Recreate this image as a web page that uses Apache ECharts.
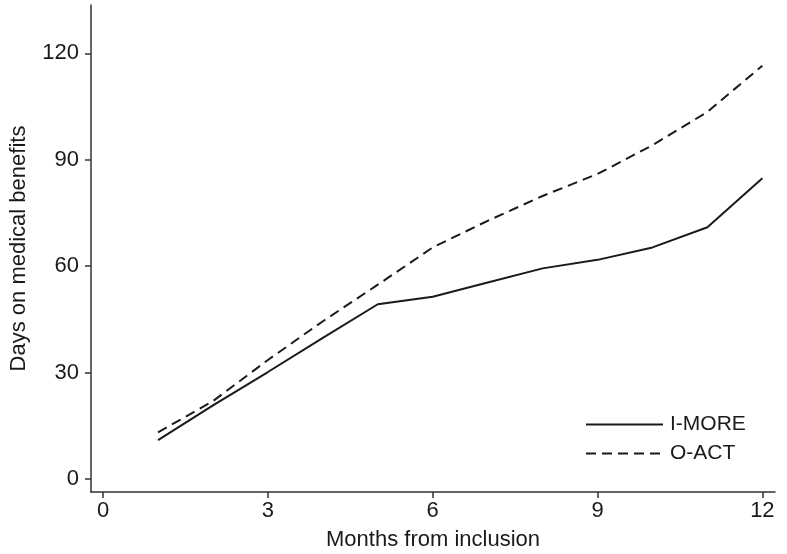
<!DOCTYPE html>
<html>
<head>
<meta charset="utf-8">
<script src="https://cdn.jsdelivr.net/npm/echarts@6/dist/echarts.min.js"></script>
<style>html,body{margin:0;padding:0;background:#fff}#c{width:787px;height:554px}</style>
</head>
<body>
<div id="c"></div>
<script>
const months = [1, 2, 3, 4, 5, 6, 7, 8, 9, 10, 11, 12];
const iMore = [11.0, 20.8, 30.2, 39.8, 49.3, 51.4, 55.4, 59.4, 61.8, 65.3, 71.0, 84.8];
const oAct = [13.2, 22.0, 33.6, 44.5, 54.8, 65.3, 72.8, 79.8, 86.0, 94.1, 103.5, 116.5];
const xTicks = [0, 3, 6, 9, 12];
const yTicks = [0, 30, 60, 90, 120];
const seriesNames = ['I-MORE', 'O-ACT'];

const pairs = (xs, ys) => xs.map((x, i) => [x, ys[i]]);
const font = '"Liberation Sans", Arial, sans-serif';
const ink = '#1a1a1a';

const chart = echarts.init(document.getElementById('c'), null, {renderer: 'canvas'});
chart.setOption({
  animation: false,
  backgroundColor: '#fff',
  grid: {left: 91, right: 12, top: 5, bottom: 62, containLabel: false, outerBoundsMode: 'none'},
  legend: {
    orient: 'vertical', left: 580, top: 409,
    itemWidth: 77, itemHeight: 14, itemGap: 8,
    itemStyle: {opacity: 0},
    textStyle: {fontFamily: font, fontSize: 21, lineHeight: 21, color: ink, padding: [0, 0, 0, 2]},
    data: seriesNames
  },
  xAxis: {
    type: 'value', min: -0.22, max: 12.23,
    name: 'Months from inclusion', nameLocation: 'middle', nameGap: 37,
    nameTextStyle: {fontFamily: font, fontSize: 22, color: ink},
    axisLine: {onZero: false, lineStyle: {color: '#333', width: 1.5}},
    axisTick: {show: true, customValues: xTicks, length: 6, inside: false, lineStyle: {color: '#333', width: 1.5}},
    axisLabel: {customValues: xTicks, fontFamily: font, fontSize: 22, color: ink, margin: 8},
    splitLine: {show: false}
  },
  yAxis: {
    type: 'value', min: -3.6, max: 133.6,
    name: 'Days on medical benefits', nameLocation: 'middle', nameGap: 61, nameRotate: 90,
    nameTextStyle: {fontFamily: font, fontSize: 22, color: ink},
    axisLine: {show: true, onZero: false, lineStyle: {color: '#333', width: 1.5}},
    axisTick: {show: true, customValues: yTicks, length: 6, lineStyle: {color: '#333', width: 1.5}},
    axisLabel: {customValues: yTicks, fontFamily: font, fontSize: 22, color: ink, margin: 12},
    splitLine: {show: false}
  },
  series: [
    {
      name: seriesNames[0], type: 'line', symbol: 'none',
      data: pairs(months, iMore),
      lineStyle: {color: ink, width: 2, type: 'solid'},
      itemStyle: {color: ink}
    },
    {
      name: seriesNames[1], type: 'line', symbol: 'none',
      data: pairs(months, oAct),
      lineStyle: {color: ink, width: 2, type: [10, 6]},
      itemStyle: {color: ink}
    }
  ]
});
</script>
</body>
</html>
